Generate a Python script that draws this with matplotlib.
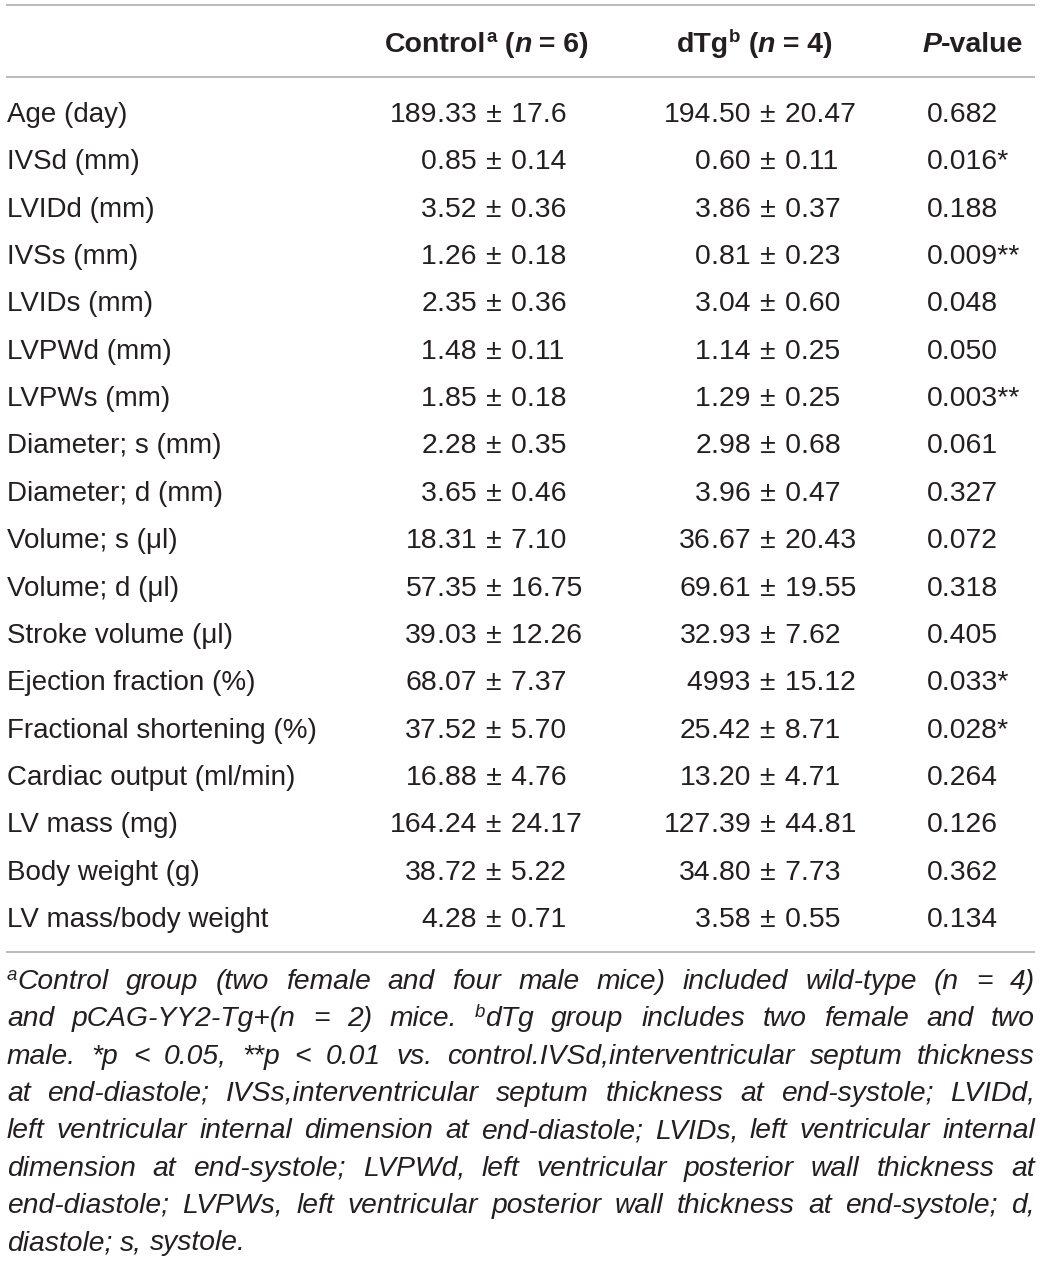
import matplotlib
matplotlib.use("Agg")
import matplotlib.pyplot as plt

# ---------------- data ----------------
parameters = [
    "Age (day)", "IVSd (mm)", "LVIDd (mm)", "IVSs (mm)", "LVIDs (mm)",
    "LVPWd (mm)", "LVPWs (mm)", "Diameter; s (mm)", "Diameter; d (mm)",
    "Volume; s (\u03bcl)", "Volume; d (\u03bcl)", "Stroke volume (\u03bcl)",
    "Ejection fraction (%)", "Fractional shortening (%)",
    "Cardiac output (ml/min)", "LV mass (mg)", "Body weight (g)",
    "LV mass/body weight",
]
control_mean = ["189.33", "0.85", "3.52", "1.26", "2.35", "1.48", "1.85", "2.28",
                "3.65", "18.31", "57.35", "39.03", "68.07", "37.52", "16.88",
                "164.24", "38.72", "4.28"]
control_sd = ["17.6", "0.14", "0.36", "0.18", "0.36", "0.11", "0.18", "0.35",
              "0.46", "7.10", "16.75", "12.26", "7.37", "5.70", "4.76",
              "24.17", "5.22", "0.71"]
dtg_mean = ["194.50", "0.60", "3.86", "0.81", "3.04", "1.14", "1.29", "2.98",
            "3.96", "36.67", "69.61", "32.93", "4993", "25.42", "13.20",
            "127.39", "34.80", "3.58"]
dtg_sd = ["20.47", "0.11", "0.37", "0.23", "0.60", "0.25", "0.25", "0.68",
          "0.47", "20.43", "19.55", "7.62", "15.12", "8.71", "4.71",
          "44.81", "7.73", "0.55"]
p_values = ["0.682", "0.016*", "0.188", "0.009**", "0.048", "0.050", "0.003**",
            "0.061", "0.327", "0.072", "0.318", "0.405", "0.033*", "0.028*",
            "0.264", "0.126", "0.362", "0.134"]

footnote_lines = [
    "^aControl group (two female and four male mice) included wild-type (n = 4)",
    "and pCAG-YY2-Tg+(n = 2) mice. ^bdTg group includes two female and two",
    "male. *p < 0.05, **p < 0.01 vs. control.IVSd,interventricular septum thickness",
    "at end-diastole; IVSs,interventricular septum thickness at end-systole; LVIDd,",
    "left ventricular internal dimension at end-diastole; LVIDs, left ventricular internal",
    "dimension at end-systole; LVPWd, left ventricular posterior wall thickness at",
    "end-diastole; LVPWs, left ventricular posterior wall thickness at end-systole; d,",
    "diastole; s, systole.",
]

# ---------------- style ----------------
W, H = 1040, 1264
FAM = ["Liberation Sans", "DejaVu Sans"]
TXT = "#231f20"
RULE = "#b4b4b4"
FS = 20          # row labels (pt)
FS_NUM = 20.4    # numbers (pt)
FS_HEAD = 20.5   # header (pt)
FS_NOTE = 20.3   # footnote (pt)
PM = "\u2004\u00b1\u2004"

fig = plt.figure(figsize=(W / 100, H / 100), dpi=100)
ax = fig.add_axes([0, 0, 1, 1])
ax.set_xlim(0, W)
ax.set_ylim(H, 0)
ax.axis("off")
renderer = fig.canvas.get_renderer()


def text_width(s, **kw):
    """Width in pixels of a run, including spaces (bar trick)."""
    t1 = ax.text(0, 0, "|" + s + "|", family=FAM, **kw)
    t2 = ax.text(0, 0, "||", family=FAM, **kw)
    w = t1.get_window_extent(renderer).width - t2.get_window_extent(renderer).width
    t1.remove()
    t2.remove()
    return w


def draw_runs(x, y, runs):
    for s, kw, dy in runs:
        ax.text(x, y + dy, s, family=FAM, color=TXT, va="baseline", ha="left", **kw)
        x += text_width(s, **kw)


def runs_width(runs):
    return sum(text_width(s, **kw) for s, kw, dy in runs)


# rules
L, R = 6, 1035
for yy in (5, 77, 952):
    ax.plot([L, R], [yy, yy], color=RULE, lw=1.3, solid_capstyle="butt")

# header
hb = dict(fontsize=FS_HEAD, fontweight="bold")
hbi = dict(fontsize=FS_HEAD, fontweight="bold", fontstyle="italic")
hsup = dict(fontsize=FS_HEAD * 0.66, fontweight="bold")
head_y = 52
headers = [
    (487, [("Control", hb, 0), ("a", hsup, -10), (" (", hb, 0), ("n", hbi, 0), (" = 6)", hb, 0)]),
    (755, [("dTg", hb, 0), ("b", hsup, -10), (" (", hb, 0), ("n", hbi, 0), (" = 4)", hb, 0)]),
    (973, [("P", hbi, 0), ("-value", hb, 0)]),
]
for cx, runs in headers:
    draw_runs(cx - runs_width(runs) / 2, head_y, runs)

# body rows
row0, row_step = 122, 47.35
label_x = 7
ctrl_dec_x = 437
dtg_dec_x = 711
p_x = 927
lab = dict(fontsize=FS)
num = dict(fontsize=FS_NUM)
dot_w = text_width(".", **num)


def draw_value(dec_x, y, mean, sd):
    if "." in mean:
        ip, fp = mean.split(".", 1)
        ax.text(dec_x, y, ip, ha="right", va="baseline", family=FAM, color=TXT, **num)
        ax.text(dec_x, y, "." + fp + PM + sd, ha="left", va="baseline",
                family=FAM, color=TXT, **num)
    else:
        # value printed without its decimal point: keep the same alignment
        x0 = dec_x + dot_w - text_width(mean[:-2], **num)
        ax.text(x0, y, mean + PM + sd, ha="left", va="baseline",
                family=FAM, color=TXT, **num)


for i, name in enumerate(parameters):
    y = row0 + i * row_step
    ax.text(label_x, y, name, ha="left", va="baseline", family=FAM, color=TXT, **lab)
    draw_value(ctrl_dec_x, y, control_mean[i], control_sd[i])
    draw_value(dtg_dec_x, y, dtg_mean[i], dtg_sd[i])
    ax.text(p_x, y, p_values[i], ha="left", va="baseline", family=FAM, color=TXT, **num)

# footnote (justified, italic)
ni = dict(fontsize=FS_NOTE, fontstyle="italic")
nsup = dict(fontsize=FS_NOTE * 0.66, fontstyle="italic")
note_y0, note_step = 989, 37.3
NL, NR = 7, 1035


def word_runs(word):
    if word.startswith("^"):
        return [(word[1], nsup, -9), (word[2:], ni, 0)]
    return [(word, ni, 0)]


for li, line in enumerate(footnote_lines):
    y = note_y0 + li * note_step
    words = [word_runs(w) for w in line.split(" ")]
    widths = [runs_width(w) for w in words]
    last = li == len(footnote_lines) - 1
    if last or len(words) == 1:
        gap = text_width(" ", **ni)
    else:
        gap = (NR - NL - sum(widths)) / (len(words) - 1)
    x = NL
    for wr, ww in zip(words, widths):
        draw_runs(x, y, wr)
        x += ww + gap

fig.savefig("out.png", dpi=100, facecolor="white")
